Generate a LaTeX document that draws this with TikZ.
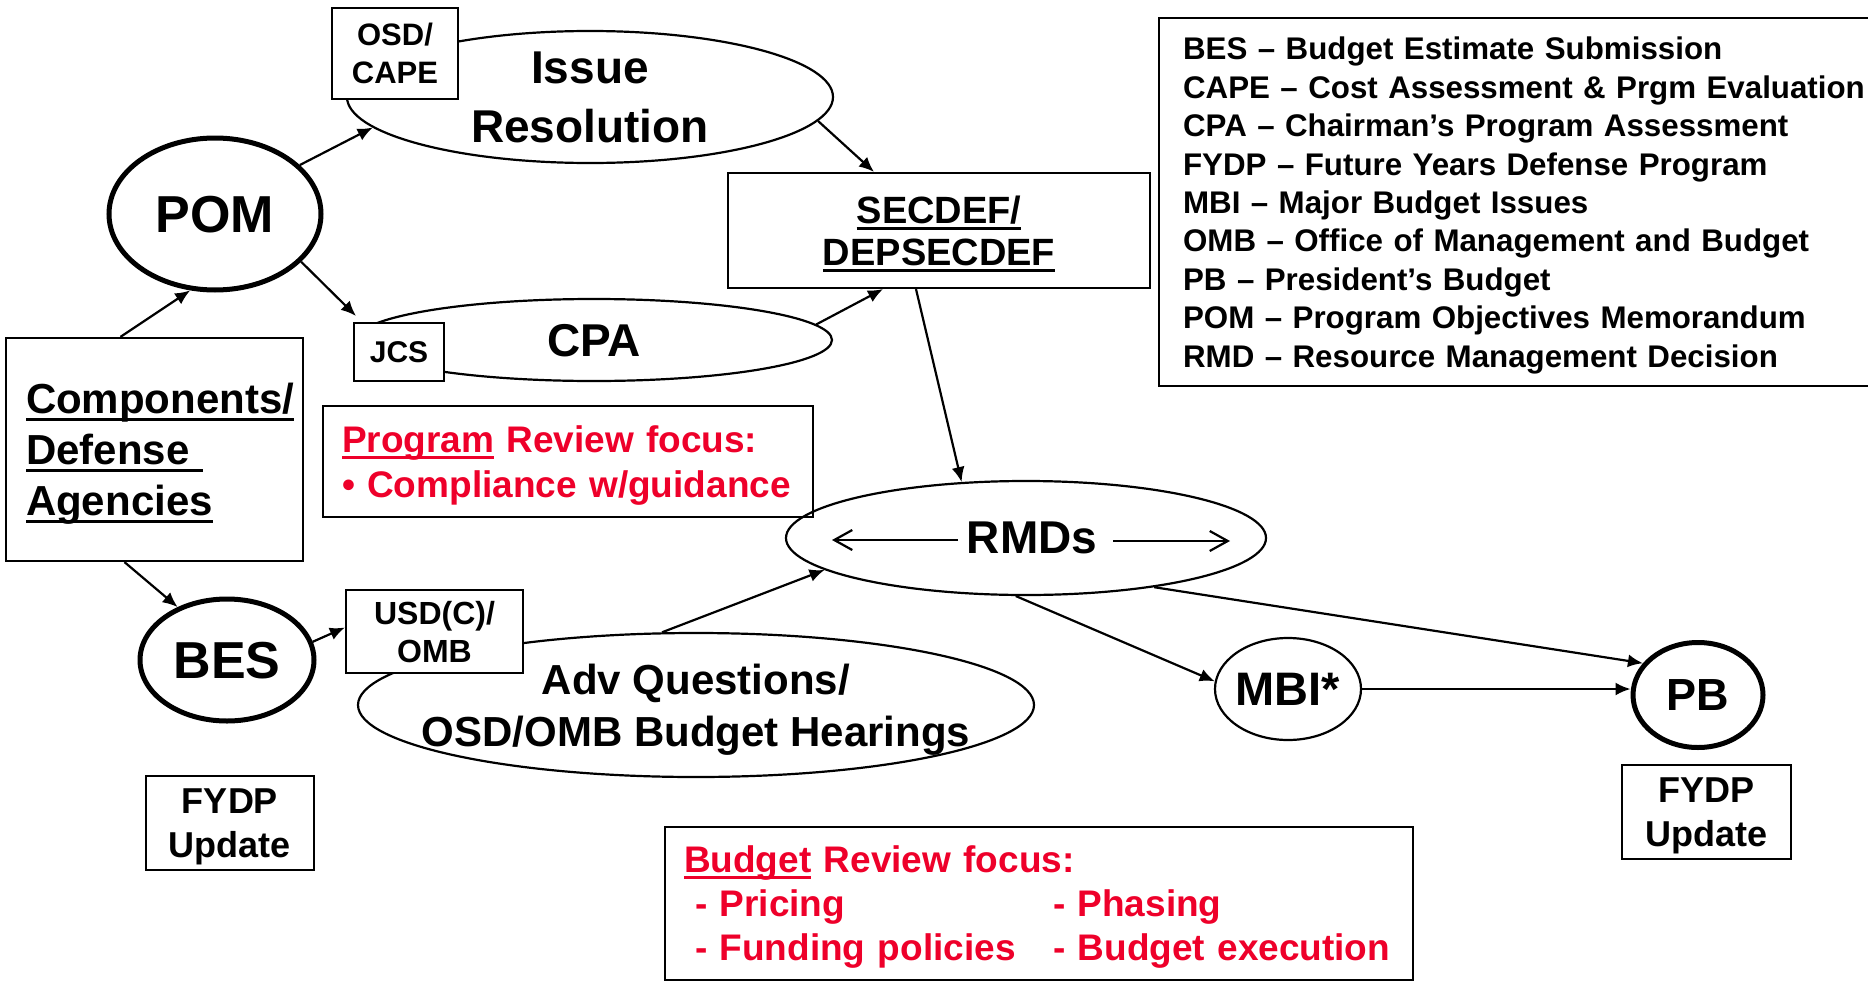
\documentclass[tikz,border=0pt]{standalone}
\usepackage{fontspec}
\setmainfont{Liberation Sans}
\usetikzlibrary{shapes.geometric,arrows.meta}
\definecolor{focusred}{RGB}{238,0,42}
\newcommand{\ulined}[1]{\leavevmode\setbox0=\hbox{#1}\rlap{\rule[-0.17em]{\wd0}{0.08em}}\box0\relax}
\newcommand{\fsz}[2]{\fontsize{#1}{#2}\selectfont\bfseries}
\begin{document}
\begin{tikzpicture}[x=1pt,y=-1pt,
    oval/.style={ellipse,draw,line width=2.2pt,inner sep=0pt,text depth=0pt},
    thick oval/.style={oval,line width=5pt},
    box/.style={rectangle,draw,line width=2.2pt,fill=white,inner sep=0pt,text depth=0pt,align=center},
    note/.style={box,align=left,inner ysep=0pt},
    flow/.style={line width=2.2pt,-{Latex[length=15pt,width=13pt]}},
    inner arrow/.style={line width=2.2pt,-{Straight Barb[length=18pt,width=20pt]}}]
    \useasboundingbox (0,0) rectangle (1868,982);
    \clip (0,0) rectangle (1868,982);

    \node[thick oval,minimum width=212pt,minimum height=152pt,font=\fsz{52}{60}] (pom) at (215,214) {POM};
    \node[oval,minimum width=486pt,minimum height=132pt,align=center,font=\fsz{46}{59}] (issue) at (590,97) {Issue\\Resolution};
    \node[box,minimum width=126pt,minimum height=91pt,font=\fsz{31}{38}] (osdcape) at (395,53.5) {OSD/\\CAPE};
    \node[oval,minimum width=476pt,minimum height=82pt,font=\fsz{46}{56}] (cpa) at (594,340) {CPA};
    \node[box,minimum width=90pt,minimum height=58pt,font=\fsz{30}{36}] (jcs) at (399,352) {JCS};
    \node[box,minimum width=422pt,minimum height=115pt,font=\fsz{38}{42}] (secdef) at (939,230.5) {\ulined{SECDEF/}\\\ulined{DEPSECDEF}};
    \node[note,anchor=north west,text width=760pt,inner xsep=24pt,minimum height=368pt,text depth=307.2pt,font=\fsz{31.3}{38.4}] (legend) at (1158,17)
        {BES – Budget Estimate Submission\\CAPE – Cost Assessment \& Prgm Evaluation\\CPA – Chairman’s Program Assessment\\FYDP – Future Years Defense Program\\MBI – Major Budget Issues\\OMB – Office of Management and Budget\\PB – President’s Budget\\POM – Program Objectives Memorandum\\RMD – Resource Management Decision};

    \node[note,text width=257pt,inner xsep=20pt,minimum height=223pt,text depth=102pt,font=\fsz{42}{51}] (components) at (154.5,449.5) {\ulined{Components/}\\\ulined{Defense\ }\\\ulined{Agencies}};
    \node[note,text width=452pt,inner xsep=19pt,minimum height=111pt,text depth=45pt,text=focusred,font=\fsz{37}{45}] (program) at (568,461.5) {\ulined{Program} Review focus:\\• Compliance w/guidance};
    \node[oval,minimum width=480pt,minimum height=114pt,font=\fsz{46}{56}] (rmds) at (1026,538) {\hspace*{12pt}RMDs};

    \node[thick oval,minimum width=174pt,minimum height=122pt,font=\fsz{52}{60}] (bes) at (227,660) {BES};
    \node[oval,minimum width=676pt,minimum height=144pt,inner xsep=-45pt,align=center,font=\fsz{42}{52}] (adv) at (696,705) {Adv Questions/\\OSD/OMB Budget Hearings};
    \node[box,minimum width=177pt,minimum height=83pt,font=\fsz{32}{38}] (usdc) at (434.5,631.5) {USD(C)/\\OMB};
    \node[oval,minimum width=146pt,minimum height=102pt,inner xsep=-4pt,font=\fsz{47}{56}] (mbi) at (1288,689) {MBI*};
    \node[thick oval,minimum width=130pt,minimum height=105pt,font=\fsz{45}{54}] (pb) at (1698,695) {PB};

    \node[box,minimum width=168pt,minimum height=94pt,font=\fsz{36}{44}] (fydpleft) at (230,823) {FYDP\\Update};
    \node[box,minimum width=169pt,minimum height=94pt,font=\fsz{36}{44}] (fydpright) at (1706.5,812) {FYDP\\Update};
    \node[note,text width=710pt,inner xsep=19pt,minimum height=153pt,text depth=88pt,text=focusred,font=\fsz{37}{44}] (budget) at (1039,903.5)
        {\ulined{Budget} Review focus:\\\hspace*{11pt}\makebox[358pt][l]{- Pricing}- Phasing\\\hspace*{11pt}\makebox[358pt][l]{- Funding policies}- Budget execution};

    \draw[flow] ([xshift=-34pt]components.north) -- (pom.-108);
    \draw[flow] (pom.30) -- (issue.-172);
    \draw[flow] (pom.-29) -- ([xshift=3pt,yshift=6pt]jcs.north west);
    \draw[flow] (issue.-6) -- ([xshift=-65pt]secdef.north);
    \draw[flow] (cpa.4) -- ([xshift=-56pt]secdef.south);
    \draw[flow] ([xshift=-23pt]secdef.south) -- (rmds.139);
    \draw[flow] ([xshift=-30pt]components.south) -- (bes.133);
    \draw[flow] (bes.12) -- ([yshift=4pt]usdc.west);
    \draw[flow] (adv.115) -- (rmds.-171);
    \draw[flow] (rmds.-100) -- (mbi.174);
    \draw[flow] (rmds.-21) -- (pb.150);
    \draw[flow] (mbi.east) -- (mbi.east -| pb.west);
    \draw[inner arrow] ([xshift=-68pt,yshift=-2pt]rmds.center) -- ([xshift=-194pt,yshift=-2pt]rmds.center);
    \draw[inner arrow] ([xshift=87pt,yshift=-3pt]rmds.center) -- ([xshift=204pt,yshift=-3pt]rmds.center);
\end{tikzpicture}
\end{document}
